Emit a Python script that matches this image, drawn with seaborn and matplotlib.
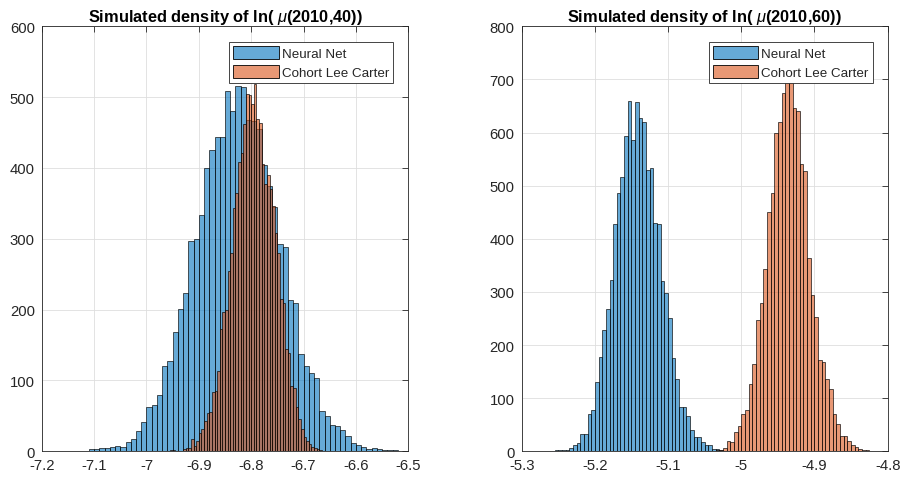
import numpy as np
import pandas as pd
import matplotlib
matplotlib.use('Agg')
import matplotlib.pyplot as plt
import matplotlib.patches as mpatches
from matplotlib.colors import to_rgba
import seaborn as sns

# bin counts (left: age 40, right: age 60)
nn40_start, nn40_width = -7.11, 0.01
nn40_counts = [3, 3, 5, 5, 6, 7, 6, 13, 17, 28,
               42, 62, 66, 79, 121, 128, 168, 201, 224, 297,
               300, 333, 400, 426, 444, 443, 509, 481, 515, 514,
               468, 466, 455, 404, 374, 345, 292, 289, 214, 209,
               137, 121, 110, 104, 57, 50, 37, 35, 30, 21,
               12, 9, 6, 3, 4, 3, 2, 2, 2]
clc40_start, clc40_width = -6.97, 0.005
clc40_counts = [1, 1, 1, 2, 2, 1, 1, 1, 3, 4,
                5, 18, 8, 15, 26, 31, 43, 54, 56, 83,
                85, 113, 172, 196, 200, 254, 280, 344, 365, 409,
                421, 462, 505, 503, 490, 518, 469, 463, 405, 377,
                390, 370, 346, 308, 280, 215, 210, 144, 139, 92,
                90, 62, 45, 31, 20, 15, 10, 6, 5, 3,
                2, 1]

nn60_start, nn60_width = -5.255, 0.005
nn60_counts = [2, 2, 3, 3, 6, 11, 16, 32, 33, 71,
               78, 130, 177, 229, 268, 323, 428, 487, 517, 593,
               660, 586, 657, 628, 619, 530, 534, 429, 427, 321,
               297, 251, 175, 136, 83, 83, 67, 41, 26, 26,
               17, 11, 11, 4, 5, 2, 1]
clc60_start, clc60_width = -5.045, 0.005
clc60_counts = [1, 1, 2, 2, 7, 19, 17, 36, 48, 70,
                78, 127, 165, 248, 279, 344, 450, 486, 599, 619,
                674, 712, 697, 646, 641, 541, 528, 363, 294, 252,
                171, 169, 136, 117, 70, 51, 29, 29, 20, 11,
                8, 4, 3, 2]

left_xticks = [-7.2, -7.1, -7.0, -6.9, -6.8, -6.7, -6.6, -6.5]
left_xlabels = ['-7.2', '-7.1', '-7', '-6.9', '-6.8', '-6.7', '-6.6', '-6.5']
left_yticks = [0, 100, 200, 300, 400, 500, 600]
right_xticks = [-5.3, -5.2, -5.1, -5.0, -4.9, -4.8]
right_xlabels = ['-5.3', '-5.2', '-5.1', '-5', '-4.9', '-4.8']
right_yticks = [0, 100, 200, 300, 400, 500, 600, 700, 800]

titles = ['Simulated density of ln( $\\mu$(2010,40))',
          'Simulated density of ln( $\\mu$(2010,60))']
legend_labels = ['Neural Net', 'Cohort Lee Carter']

blue = '#0072BD'
orange = '#D95319'
dark = '#262626'

sns.set_style('white')
plt.rcParams['font.family'] = ['Liberation Sans', 'DejaVu Sans']
plt.rcParams['mathtext.fontset'] = 'custom'
plt.rcParams['mathtext.it'] = 'Liberation Sans:italic'
plt.rcParams['mathtext.rm'] = 'Liberation Sans'


def draw_hist(ax, start, width, counts, color):
    edges = start + width * np.arange(len(counts) + 1)
    df = pd.DataFrame({'value': edges[:-1] + width / 2,
                       'count': np.asarray(counts, dtype=float)})
    sns.histplot(data=df, x='value', weights='count', bins=list(edges), ax=ax,
                 color=color, alpha=0.6, edgecolor=(0, 0, 0, 0.75), linewidth=0.6)


def style_axes(ax, title, xticks, xlabels, yticks):
    ax.set_xlim(xticks[0], xticks[-1])
    ax.set_ylim(yticks[0], yticks[-1])
    ax.set_xticks(xticks)
    ax.set_xticklabels(xlabels)
    ax.set_yticks(yticks)
    ax.set_yticklabels([str(v) for v in yticks])
    ax.set_xlabel('')
    ax.set_ylabel('')
    ax.grid(True, color='#dedede', linewidth=0.6)
    ax.set_axisbelow(True)
    ax.tick_params(direction='in', length=4, width=0.6, top=True, right=True,
                   colors=dark, labelsize=10.7, pad=5)
    for sp in ax.spines.values():
        sp.set_color(dark)
        sp.set_linewidth(0.6)
    ax.set_title(title, fontsize=11.8, fontweight='bold', color='black', pad=4)
    handles = [mpatches.Patch(facecolor=to_rgba(blue, 0.6), edgecolor='black', linewidth=0.6),
               mpatches.Patch(facecolor=to_rgba(orange, 0.6), edgecolor='black', linewidth=0.6)]
    leg = ax.legend(handles, legend_labels, loc='upper right', bbox_to_anchor=(0.959, 0.962),
                    borderaxespad=0, fancybox=False, framealpha=1, edgecolor=dark,
                    fontsize=9.6, handlelength=3.4, handleheight=1.1, handletextpad=0.25,
                    labelspacing=0.35, borderpad=0.3)
    leg.get_frame().set_linewidth(0.6)
    leg.set_zorder(10)


fig = plt.figure(figsize=(9.01, 4.81), dpi=100)
ax1 = fig.add_axes([0.0463, 0.0597, 0.4069, 0.8836])
ax2 = fig.add_axes([0.579, 0.0597, 0.4062, 0.8836])

draw_hist(ax1, nn40_start, nn40_width, nn40_counts, blue)
draw_hist(ax1, clc40_start, clc40_width, clc40_counts, orange)
style_axes(ax1, titles[0], left_xticks, left_xlabels, left_yticks)

draw_hist(ax2, nn60_start, nn60_width, nn60_counts, blue)
draw_hist(ax2, clc60_start, clc60_width, clc60_counts, orange)
style_axes(ax2, titles[1], right_xticks, right_xlabels, right_yticks)

fig.savefig('out.png', dpi=100)
